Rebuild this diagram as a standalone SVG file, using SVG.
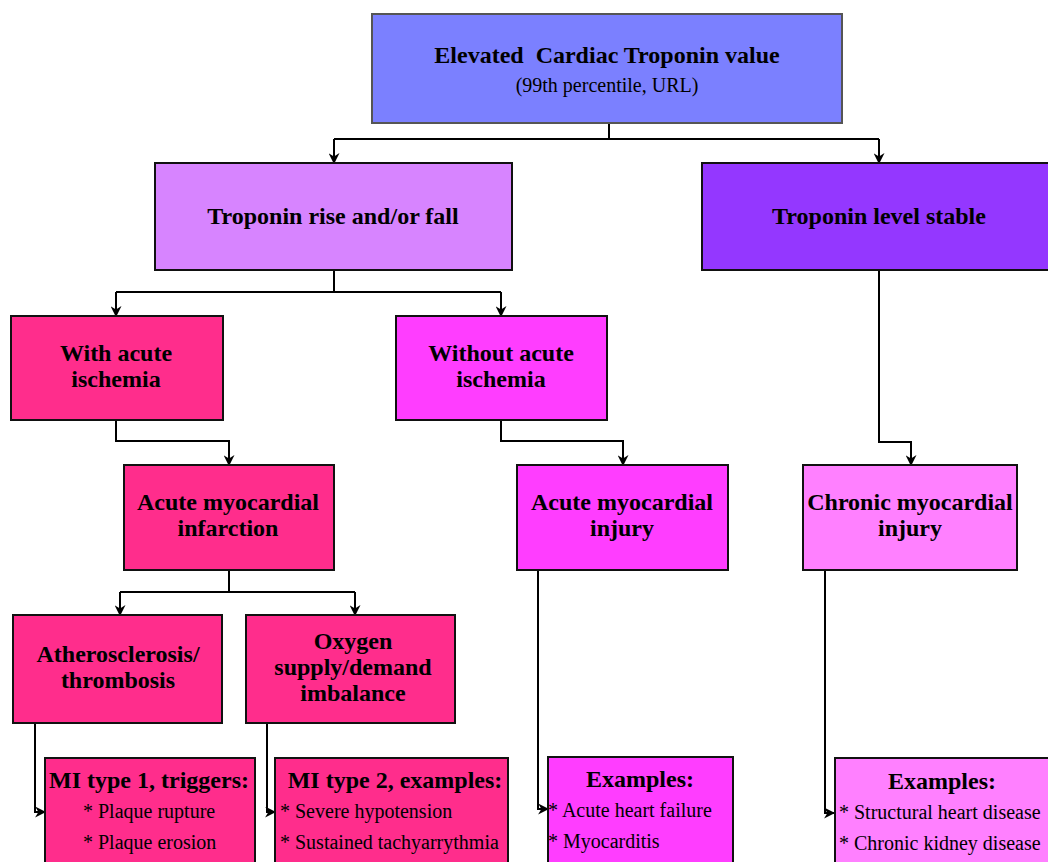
<svg xmlns="http://www.w3.org/2000/svg" width="1048" height="862" viewBox="0 0 1048 862">
<style>
.box{stroke:#111;stroke-width:2}
.t{font-family:"Liberation Serif","Times New Roman",serif;font-weight:bold;font-size:24px;fill:#000;text-anchor:middle}
.s{font-family:"Liberation Serif","Times New Roman",serif;font-size:20px;fill:#000}
.c{fill:none;stroke:#000;stroke-width:2}
</style>
<defs>
<marker id="arr" viewBox="0 0 10 10" refX="9" refY="5" markerWidth="11" markerHeight="11" markerUnits="userSpaceOnUse" orient="auto">
<path d="M0,0 L10,5 L0,10 L3,5 Z" fill="#000"/>
</marker>
</defs>
<rect width="1048" height="862" fill="#fff"/>
<g id="connectors">
<path class="c" d="M609,123 V139"/>
<path class="c" d="M334,139 H879"/>
<path class="c" d="M334,139 V163" marker-end="url(#arr)"/>
<path class="c" d="M879,139 V163" marker-end="url(#arr)"/>
<path class="c" d="M334,270 V292"/>
<path class="c" d="M116,292 H501"/>
<path class="c" d="M116,292 V316" marker-end="url(#arr)"/>
<path class="c" d="M501,292 V316" marker-end="url(#arr)"/>
<path class="c" d="M116,420 V441 H229 V465" marker-end="url(#arr)"/>
<path class="c" d="M501,420 V441 H623 V465" marker-end="url(#arr)"/>
<path class="c" d="M879,270 V442 H911 V465" marker-end="url(#arr)"/>
<path class="c" d="M229,570 V592"/>
<path class="c" d="M120,592 H355"/>
<path class="c" d="M120,592 V615" marker-end="url(#arr)"/>
<path class="c" d="M355,592 V615" marker-end="url(#arr)"/>
<path class="c" d="M35,723 V812 H45" marker-end="url(#arr)"/>
<path class="c" d="M267,723 V812 H275" marker-end="url(#arr)"/>
<path class="c" d="M538,570 V809 H548" marker-end="url(#arr)"/>
<path class="c" d="M825,570 V813 H834" marker-end="url(#arr)"/>
</g>
<g id="n-top">
<rect x="372" y="14" width="470" height="109" fill="#7b80ff" stroke="#555" stroke-width="2"/>
<text class="t" x="607" y="63" font-size="26" xml:space="preserve">Elevated  Cardiac Troponin value</text>
<text class="s" x="607" y="92" text-anchor="middle" font-size="19">(99th percentile, URL)</text>
</g>
<g id="n-rise">
<rect class="box" x="155" y="163" width="357" height="107" fill="#d784ff"/>
<text class="t" x="333" y="224">Troponin rise and/or fall</text>
</g>
<g id="n-stable">
<rect class="box" x="702" y="163" width="350" height="107" fill="#9437ff"/>
<text class="t" x="879" y="224">Troponin level stable</text>
</g>
<g id="n-with">
<rect class="box" x="11" y="316" width="212" height="104" fill="#ff2d8c"/>
<text class="t" x="116" y="361">With acute</text>
<text class="t" x="116" y="387">ischemia</text>
</g>
<g id="n-without">
<rect class="box" x="396" y="316" width="211" height="104" fill="#ff3dff"/>
<text class="t" x="501" y="361">Without acute</text>
<text class="t" x="501" y="387">ischemia</text>
</g>
<g id="n-ami">
<rect class="box" x="124" y="465" width="210" height="105" fill="#ff2d8c"/>
<text class="t" x="228" y="510">Acute myocardial</text>
<text class="t" x="228" y="536">infarction</text>
</g>
<g id="n-ainj">
<rect class="box" x="517" y="465" width="211" height="105" fill="#ff3dff"/>
<text class="t" x="622" y="510">Acute myocardial</text>
<text class="t" x="622" y="536">injury</text>
</g>
<g id="n-cinj">
<rect class="box" x="803" y="465" width="214" height="105" fill="#ff80ff"/>
<text class="t" x="910" y="510">Chronic myocardial</text>
<text class="t" x="910" y="536">injury</text>
</g>
<g id="n-ath">
<rect class="box" x="13" y="615" width="209" height="108" fill="#ff2d8c"/>
<text class="t" x="118" y="662">Atherosclerosis/</text>
<text class="t" x="118" y="688">thrombosis</text>
</g>
<g id="n-oxy">
<rect class="box" x="246" y="615" width="209" height="108" fill="#ff2d8c"/>
<text class="t" x="353" y="649">Oxygen</text>
<text class="t" x="353" y="675">supply/demand</text>
<text class="t" x="353" y="701">imbalance</text>
</g>
<g id="n-mi1">
<rect class="box" x="45" y="758" width="210" height="110" fill="#ff2d8c"/>
<text class="t" x="149" y="788">MI type 1, triggers:</text>
<text class="s" x="83" y="818">* Plaque rupture</text>
<text class="s" x="83" y="849">* Plaque erosion</text>
</g>
<g id="n-mi2">
<rect class="box" x="275" y="758" width="233" height="110" fill="#ff2d8c"/>
<text class="t" x="395" y="788">MI type 2, examples:</text>
<text class="s" x="280" y="818">* Severe hypotension</text>
<text class="s" x="280" y="849">* Sustained tachyarrythmia</text>
</g>
<g id="n-ex1">
<rect class="box" x="548" y="757" width="185" height="110" fill="#ff3dff"/>
<text class="t" x="640" y="787">Examples:</text>
<text class="s" x="548" y="817">* Acute heart failure</text>
<text class="s" x="548" y="848">* Myocarditis</text>
</g>
<g id="n-ex2">
<rect class="box" x="835" y="758" width="220" height="110" fill="#ff80ff"/>
<text class="t" x="942" y="789">Examples:</text>
<text class="s" x="839" y="819">* Structural heart disease</text>
<text class="s" x="839" y="850">* Chronic kidney disease</text>
</g>
</svg>
